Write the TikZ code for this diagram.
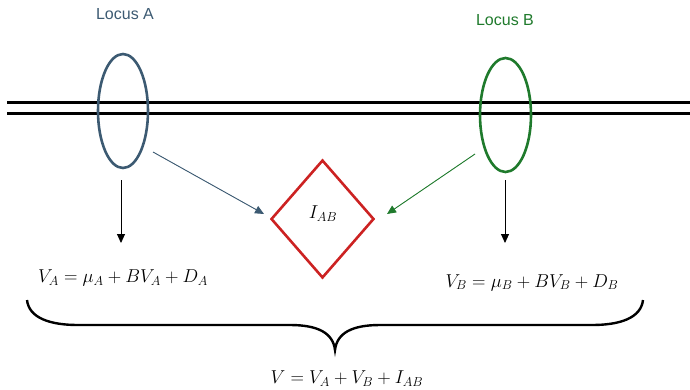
\documentclass[tikz,border=0pt]{standalone}
\usepackage{graphicx}
\usepackage{fontspec}
\newfontfamily\labelfont{Liberation Sans}
\usetikzlibrary{shapes.geometric,arrows.meta}
\definecolor{slateA}{HTML}{3C5A72}
\definecolor{greenB}{HTML}{1F7A2C}
\definecolor{redI}{HTML}{CC2222}
\newcommand{\eqbig}[1]{\scalebox{1.08}{$#1$}}
\begin{document}
\begin{tikzpicture}[x=1pt,y=-1pt,
  locuslabel/.style={font=\labelfont\fontsize{16}{19}\selectfont,inner sep=0pt},
  locusring/.style={ellipse,draw,line width=2.6pt,minimum width=50pt,minimum height=114pt,inner sep=0pt},
  eqtext/.style={font=\fontsize{17.28}{21}\selectfont,inner sep=0pt},
  thinarrow/.style={line width=0.9pt,-{Triangle[length=9pt,width=8pt]}},
  chrom/.style={line width=3pt}]
\useasboundingbox (0,0) rectangle (690,389);
% chromosome lines
\coordinate (l1) at (7,102.5);
\coordinate (r1) at (690,102.5);
\coordinate (l2) at (7,113.5);
\coordinate (r2) at (690,113.5);
\draw[chrom] (l1) -- (r1);
\draw[chrom] (l2) -- (r2);
% loci
\node[locusring,draw=slateA] (eA) at (123,111) {};
\node[locusring,draw=greenB,minimum width=51pt] (eB) at (505.5,115) {};
\node[locuslabel,text=slateA] (labA) at (125,14.5) {Locus A};
\node[locuslabel,text=greenB] (labB) at (505,20) {Locus B};
% interaction diamond
\node[diamond,draw=redI,line width=2.6pt,minimum width=103pt,minimum height=118pt,inner sep=0pt] (dia) at (322.5,219) {};
\node[eqtext] (iab) at (323,214) {\eqbig{I_{AB}}};
% diagonal arrows
\coordinate (aS) at (153,152);
\coordinate (aE) at (264,214);
\coordinate (bS) at (475,154);
\coordinate (bE) at (387,214);
\draw[thinarrow,draw=slateA,fill=slateA] (aS) -- (aE);
\draw[thinarrow,draw=greenB,fill=greenB] (bS) -- (bE);
% down arrows
\coordinate (dA1) at (121,180);
\coordinate (dA2) at (121,243);
\coordinate (dB1) at (505,180);
\coordinate (dB2) at (505,243);
\draw[thinarrow] (dA1) -- (dA2);
\draw[thinarrow] (dB1) -- (dB2);
% equations
\node[eqtext] (eqA) at (123,278) {\eqbig{V_A = \mu_A + BV_A + D_A}};
\node[eqtext] (eqB) at (532,282.5) {\eqbig{V_B = \mu_B + BV_B + D_B}};
\node[eqtext] (eqV) at (347,379) {\eqbig{V = V_A + V_B + I_{AB}}};
% brace
\coordinate (bl) at (27,300);
\coordinate (br) at (643,300);
\coordinate (cusp) at (335,350);
\draw[line width=2.4pt] (bl) .. controls (29,318) and (50,325) .. (78,325)
  -- (290,325) .. controls (318,325) and (333,333) .. (cusp)
  .. controls (337,333) and (352,325) .. (380,325)
  -- (592,325) .. controls (620,325) and (641,318) .. (br);
\end{tikzpicture}
\end{document}
